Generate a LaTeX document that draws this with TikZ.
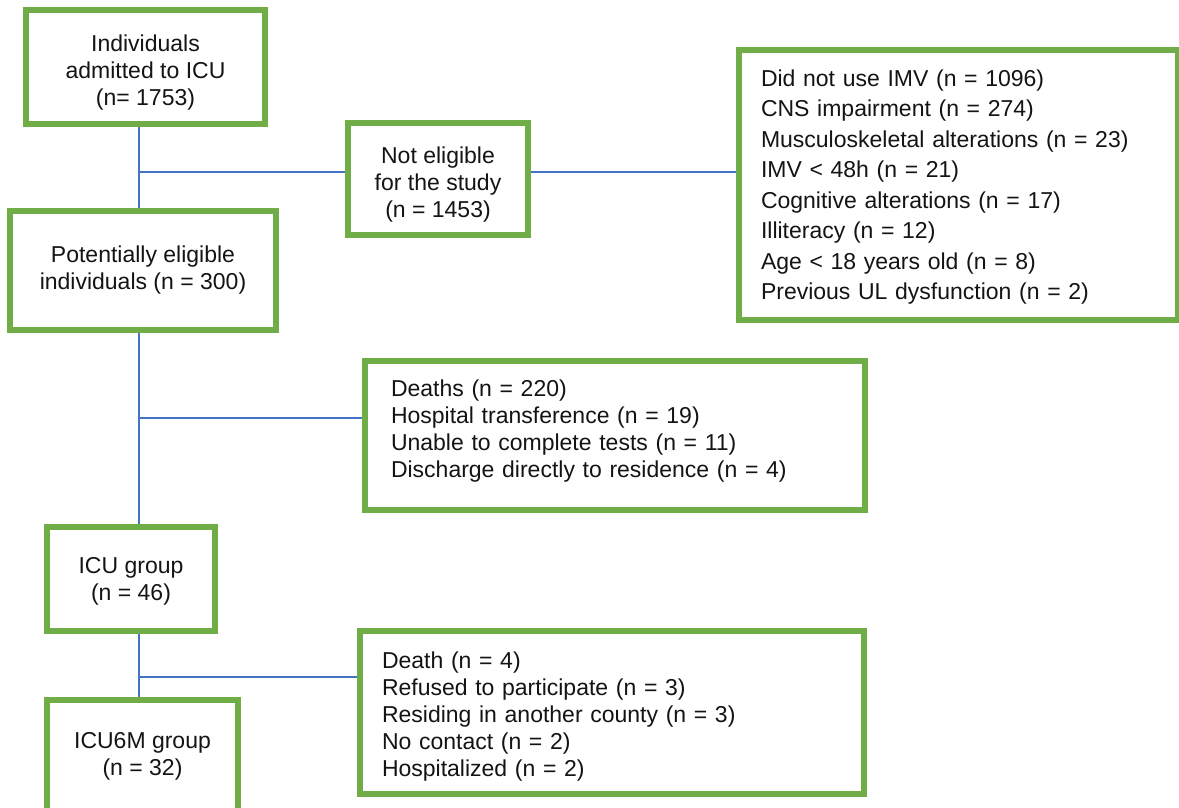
\documentclass[tikz,border=0pt]{standalone}
\usepackage{fontspec}
\setmainfont{Liberation Sans}
\usetikzlibrary{positioning,backgrounds}
\definecolor{boxgreen}{RGB}{112,173,71}
\definecolor{linkblue}{RGB}{68,114,196}
\definecolor{ink}{RGB}{20,20,20}
\tikzset{
  box/.style={draw=boxgreen,fill=white,line width=6pt,align=center,inner sep=0pt,
    text=ink,font=\fontsize{23}{27}\selectfont},
  listbox/.style={box,align=left,inner xsep=#1,inner ysep=0pt},
  listbox/.default=22pt,
  link/.style={draw=linkblue,line width=1.5pt},
}

\begin{document}
\begin{tikzpicture}[x=1pt,y=-1pt]
  \useasboundingbox (0,0) rectangle (1179,807);
  % main column
  \node[box,minimum width=239pt,minimum height=114pt,text height=77pt,text depth=0pt] (adm) at (145.5,67)
    {Individuals\\admitted to ICU\\(n= 1753)};
  \node[box,minimum width=266pt,minimum height=119pt] (elig) at (143,270.5)
    {Potentially eligible\\individuals (n = 300)};
  \node[box,minimum width=168pt,minimum height=104pt,text depth=1pt] (icu) at (131,579)
    {ICU group\\(n = 46)};
  \node[box,minimum width=191pt,minimum height=112pt] (sixm) at (142.5,756)
    {ICU6M group\\(n = 32)};
  % exclusions
  \node[box,minimum width=180pt,minimum height=112pt,text height=77pt,text depth=0pt] (notel) at (438,179)
    {Not eligible\\for the study\\(n = 1453)};
  \node[listbox,text width=395pt,minimum height=270pt,text depth=214pt,
    font=\fontsize{23}{30.5}\selectfont] (excl) at (958.5,185)
    {Did not use IMV (n = 1096)\\
     CNS impairment (n = 274)\\
     Musculoskeletal alterations (n = 23)\\
     IMV < 48h (n = 21)\\
     Cognitive alterations (n = 17)\\
     Illiteracy (n = 12)\\
     Age < 18 years old (n = 8)\\
     Previous UL dysfunction (n = 2)};
  \node[listbox=26pt,text width=448pt,minimum height=149pt,text depth=94pt] (lost) at (615,435.5)
    {Deaths (n = 220)\\
     Hospital transference (n = 19)\\
     Unable to complete tests (n = 11)\\
     Discharge directly to residence (n = 4)};
  \node[listbox,text width=460pt,minimum height=163pt,text depth=105pt] (fup) at (612,712.5)
    {Death (n = 4)\\
     Refused to participate (n = 3)\\
     Residing in another county (n = 3)\\
     No contact (n = 2)\\
     Hospitalized (n = 2)};
  % connectors
  \coordinate (j1) at (139,172);
  \coordinate (j2) at (139,418);
  \coordinate (j3) at (139,677);
  \begin{scope}[on background layer]
    \draw[link] (adm.south -| j1) -- (elig.north -| j1);
    \draw[link] (j1) -- (j1 -| notel.west);
    \draw[link] (j1 -| notel.east) -- (j1 -| excl.west);
    \draw[link] (elig.south -| j2) -- (icu.north -| j2);
    \draw[link] (j2) -- (j2 -| lost.west);
    \draw[link] (icu.south -| j3) -- (sixm.north -| j3);
    \draw[link] (j3) -- (j3 -| fup.west);
  \end{scope}
\end{tikzpicture}
\end{document}
